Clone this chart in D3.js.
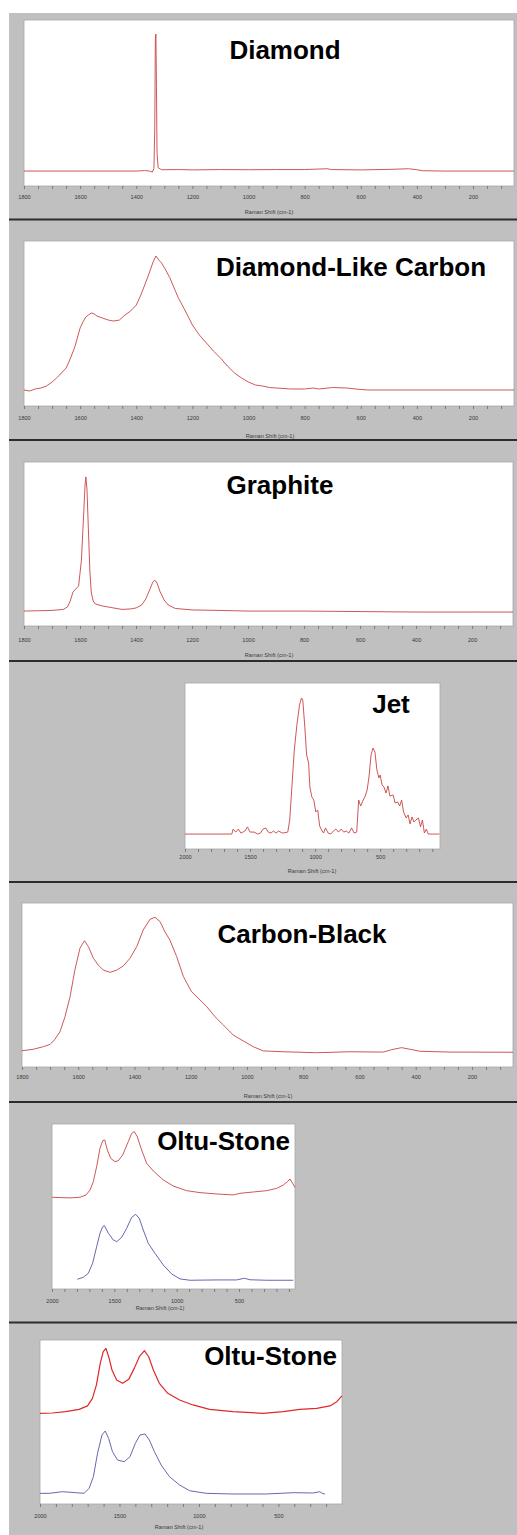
<!DOCTYPE html>
<html><head><meta charset="utf-8">
<script src="https://cdn.jsdelivr.net/npm/d3@7/dist/d3.min.js"></script>
<style>html,body{margin:0;padding:0;background:#fff}svg{display:block}</style>
</head><body>
<svg id="c" width="517" height="1535"></svg>
<script>
// ---------------- DATA ----------------
const diamondShift = [1800,1600,1400,1370,1352,1343,1337,1334,1332,1330,1328,1326,1322,1310,1250,1200,1100,1000,900,800,720,705,600,500,430,400,380,300,54];
const diamondIntensity = [9.0,9.0,9.0,9.3,9.0,8.4,10.5,35,88,91.5,60,20,11,9.8,9.9,9.7,9.9,9.8,9.9,9.9,10.4,9.9,9.7,10.0,10.4,9.8,9.2,9.0,9.0];

const dlcShift = [1800,1780,1760,1740,1720,1700,1680,1660,1650,1640,1630,1620,1610,1600,1590,1580,1570,1560,1550,1540,1520,1500,1480,1460,1440,1420,1400,1385,1370,1355,1340,1330,1320,1310,1295,1280,1265,1250,1225,1200,1175,1150,1125,1100,1075,1050,1025,1000,975,950,925,900,850,800,770,750,700,650,600,575,54];
const dlcIntensity = [9.7,9.1,10.3,10.9,12.1,14.5,17.6,21.2,23.0,26.7,30.9,35.2,41.2,47.3,50.9,53.9,55.2,56.4,55.8,54.5,53.3,52.1,51.5,52.1,55.2,57.6,61.2,66.7,73.3,80.0,87.3,90.9,88.5,86.7,82.4,77.6,71.5,65.5,57.6,49.1,43.0,38.2,33.3,29.1,24.2,20.0,17.0,14.5,12.7,12.1,11.2,10.9,10.3,10.3,10.9,10.3,11.2,10.9,10.0,9.7,9.7];

const graphiteShift = [1800,1700,1660,1645,1635,1625,1615,1605,1595,1588,1582,1579,1575,1570,1565,1560,1553,1545,1520,1500,1450,1420,1400,1380,1365,1350,1340,1333,1325,1315,1300,1285,1260,1200,1100,1000,800,600,400,200,54];
const graphiteIntensity = [9.1,9.5,10.1,11.6,15.2,20.7,22.6,24.4,40.2,64.6,86.0,90.9,82.9,58.5,34.1,20.7,15.2,13.4,12.2,11.6,10.1,10.4,11.0,12.8,16.5,22.6,26.8,28.0,26.2,21.3,15.9,12.8,10.7,9.8,9.5,9.1,9.1,8.8,8.5,8.5,8.5];

const jetShift = [2000,1640,1630,1610,1590,1570,1540,1520,1500,1470,1440,1420,1400,1380,1360,1340,1320,1300,1280,1250,1210,1195,1180,1160,1140,1120,1105,1095,1080,1065,1050,1040,1025,1010,995,980,965,950,935,920,900,880,860,840,820,800,780,760,740,720,700,680,665,650,630,615,600,585,570,555,540,525,510,500,485,470,455,440,425,400,385,365,350,335,320,300,285,270,255,240,225,205,190,175,160,145,130,100,45];
const jetIntensity = [9.0,9.0,12.0,10.2,12.0,9.6,10.8,13.3,10.2,10.2,9.0,9.6,12.0,12.7,10.2,9.6,10.8,9.6,10.8,9.6,10.2,17.5,35.5,59.6,74.7,86.7,91.0,89.8,74.7,56.6,51.8,37.3,31.3,29.5,22.3,23.5,13.9,11.4,9.6,12.7,9.6,9.0,10.8,12.0,10.2,12.0,10.2,10.8,9.6,12.7,9.6,10.2,29.5,25.9,29.5,31.9,35.5,44.0,56.6,60.8,58.4,47.6,42.8,44.6,38.6,37.3,33.7,38.0,31.9,32.5,27.7,28.3,25.9,29.5,22.3,18.7,20.5,15.1,19.3,16.3,17.5,18.7,13.3,17.5,9.6,12.0,9.0,9.0,9.0];

const carbonShift = [1800,1760,1724,1700,1683,1665,1647,1629,1612,1594,1578,1564,1546,1529,1511,1487,1463,1440,1416,1392,1369,1345,1327,1309,1292,1274,1250,1226,1197,1167,1143,1114,1084,1049,1013,978,942,871,752,634,515,485,450,420,385,278,54];
const carbonIntensity = [9.9,10.8,12.4,13.8,16.9,21.5,30.7,42.9,59.1,72.4,77.0,73.4,66.3,62.2,59.1,57.7,59.1,61.6,66.3,73.4,83.5,90.0,91.3,88.6,82.5,77.4,67.3,55.1,45.9,40.9,36.8,30.7,25.6,19.5,15.9,12.4,9.8,9.3,8.7,9.3,9.1,10.6,11.8,10.8,9.6,9.1,9.0];

const oltu1Shift = [2000,1936,1856,1775,1727,1695,1669,1642,1615,1593,1577,1556,1529,1495,1468,1433,1388,1361,1340,1316,1281,1241,1187,1107,1027,920,813,679,546,492,385,278,198,145,113,91,73,51];
const oltu1Red = [55.6,55.4,55.2,55.6,57.0,60.0,65.0,74.1,85.3,89.9,90.3,84.2,79.2,77.2,77.8,81.2,89.3,94.3,95.4,92.3,84.2,76.2,71.5,66.1,62.4,59.6,58.4,57.6,57.0,58.0,58.8,59.6,61.0,63.0,65.0,66.7,64.4,61.6];
const oltu1BlueShift = [1797,1749,1709,1674,1642,1615,1593,1580,1548,1508,1481,1441,1401,1361,1329,1300,1268,1228,1174,1107,1040,973,893,679,519,457,412,278,65];
const oltu1Blue = [5.9,7.1,9.5,15.6,25.6,33.8,37.8,38.4,33.8,29.7,28.7,31.3,36.8,43.4,45.3,42.8,35.8,27.7,21.6,14.5,9.1,6.1,5.3,5.5,5.5,6.5,5.6,5.3,5.3];

const oltu2Shift = [2000,1922,1838,1754,1701,1670,1645,1621,1602,1585,1568,1547,1518,1480,1442,1407,1375,1343,1316,1287,1249,1196,1122,1038,933,786,597,470,365,259,176,133,100];
const oltu2Red = [55.3,55.5,56.3,57.7,59.8,64.4,72.6,85.8,92.9,94.9,89.8,81.7,75.6,73.6,76.0,82.7,89.8,93.5,89.8,81.7,73.6,67.5,63.4,60.4,57.7,56.3,55.3,56.3,57.7,58.3,59.8,62.4,65.9];
const oltu2BlueShift = [2000,1943,1859,1775,1722,1691,1664,1638,1610,1590,1568,1544,1512,1470,1434,1400,1371,1339,1312,1280,1238,1186,1122,1059,954,786,575,407,281,239,225,207];
const oltu2Blue = [6.5,6.5,7.5,6.9,6.5,9.6,16.7,30.9,42.1,44.5,40.0,31.9,26.8,25.8,28.8,37.0,42.1,42.7,39.0,31.9,23.8,16.7,11.6,8.1,6.5,6.1,6.1,6.9,6.7,7.5,6.5,6.1];

const titles = ["Diamond","Diamond-Like Carbon","Graphite","Jet","Carbon-Black","Oltu-Stone","Oltu-Stone"];
const ticksWide = [1800,1600,1400,1200,1000,800,600,400,200];
const ticksNarrow = [2000,1500,1000,500];
const axisTitle = "Raman Shift (cm-1)";

// ---------------- LAYOUT ----------------
const zip = (a,b) => a.map((v,i)=>[v,b[i]]);
const RED = "#c94444", BLUE = "#5656a8";
const panels = [
  {box:[24,20,514,186], dom:[1800,54], minor:50, majors:ticksWide, title:titles[0], tx:285, ty:59, ax:269, labY:197, atY:212,
   series:[{d:zip(diamondShift,diamondIntensity), c:RED}]},
  {box:[24,241,514,406], dom:[1800,54], minor:50, majors:ticksWide, title:titles[1], tx:351, ty:276, ax:270, labY:418, atY:436,
   series:[{d:zip(dlcShift,dlcIntensity), c:RED}]},
  {box:[24,462,513,626], dom:[1800,54], minor:50, majors:ticksWide, title:titles[2], tx:280, ty:494, ax:269, labY:640, atY:655,
   series:[{d:zip(graphiteShift,graphiteIntensity), c:RED}]},
  {box:[185,683,440,849], dom:[2000,40], minor:100, majors:ticksNarrow, title:titles[3], tx:391, ty:713, ax:312, labY:857, atY:871,
   series:[{d:zip(jetShift,jetIntensity), c:RED}]},
  {box:[22,903,513,1067], dom:[1800,54], minor:50, majors:ticksWide, title:titles[4], tx:302, ty:943, ax:268, labY:1077, atY:1096,
   series:[{d:zip(carbonShift,carbonIntensity), c:RED}]},
  {box:[52,1124,295,1289], dom:[2000,51], minor:100, majors:ticksNarrow, title:titles[5], tx:290, anchor:"end", ty:1150, ax:160, labY:1301, atY:1308,
   series:[{d:zip(oltu1Shift,oltu1Red), c:RED},{d:zip(oltu1BlueShift,oltu1Blue), c:BLUE}]},
  {box:[40,1340,342,1504], dom:[2000,100], minor:100, majors:ticksNarrow, title:titles[6], tx:337, anchor:"end", ty:1365, ax:179, labY:1516, atY:1527,
   series:[{d:zip(oltu2Shift,oltu2Red), c:"#e02828", w:1.2},{d:zip(oltu2BlueShift,oltu2Blue), c:BLUE}]}
];

const svg = d3.select("#c");
svg.append("rect").attr("x",9).attr("y",13).attr("width",508).attr("height",1522).attr("fill","#c0c0c0");
// separators
[219.5,440,661,882,1102,1322.5].forEach(y=>{
  svg.append("rect").attr("x",9).attr("y",y-1).attr("width",508).attr("height",2).attr("fill","#2c2c2c");
});

panels.forEach(p=>{
  const [x0,y0,x1,y1] = p.box;
  const g = svg.append("g");
  g.append("rect").attr("x",x0).attr("y",y0).attr("width",x1-x0).attr("height",y1-y0)
    .attr("fill","#fff").attr("stroke","#a8a8a8").attr("stroke-width",0.8);
  const x = d3.scaleLinear().domain(p.dom).range([x0,x1]);
  const y = d3.scaleLinear().domain([0,100]).range([y1,y0]);
  // minor ticks
  const minorVals = d3.range(p.dom[0], p.dom[1], -p.minor);
  const minorAxis = d3.axisBottom(x).tickValues(minorVals).tickSize(3).tickFormat("");
  const ga = g.append("g").attr("transform",`translate(0,${y1})`).call(minorAxis);
  ga.select(".domain").remove();
  ga.selectAll("line").attr("stroke","#606060").attr("stroke-width",0.7);
  // labels
  const majAxis = d3.axisBottom(x).tickValues(p.majors).tickSize(0).tickFormat(d3.format("d"));
  const gm = g.append("g").attr("transform",`translate(0,${p.labY-y1-4})`);
  gm.attr("transform",`translate(0,${p.labY})`).call(majAxis);
  gm.select(".domain").remove();
  gm.selectAll("text").attr("y",0).attr("dy","0.35em").attr("font-family","Liberation Sans, Arial, sans-serif")
    .attr("font-size",5.6).attr("fill","#3a3a3a");
  g.append("text").attr("x",p.ax).attr("y",p.atY).attr("dy","0.35em").attr("text-anchor","middle")
    .attr("font-family","Liberation Sans, Arial, sans-serif").attr("font-size",5.6).attr("fill","#3a3a3a").text(axisTitle);
  // series
  const line = d3.line().x(d=>x(d[0])).y(d=>y(d[1]));
  p.series.forEach(s=>{
    g.append("path").attr("d",line(s.d)).attr("fill","none").attr("stroke",s.c)
      .attr("stroke-width",s.w||0.9).attr("stroke-linejoin","round");
  });
  g.append("text").attr("x",p.tx).attr("y",p.ty).attr("text-anchor",p.anchor||"middle")
    .attr("font-family","Liberation Sans, Arial, sans-serif").attr("font-weight","bold").attr("font-size",26)
    .attr("fill","#000").text(p.title);
});
</script>
</body></html>
